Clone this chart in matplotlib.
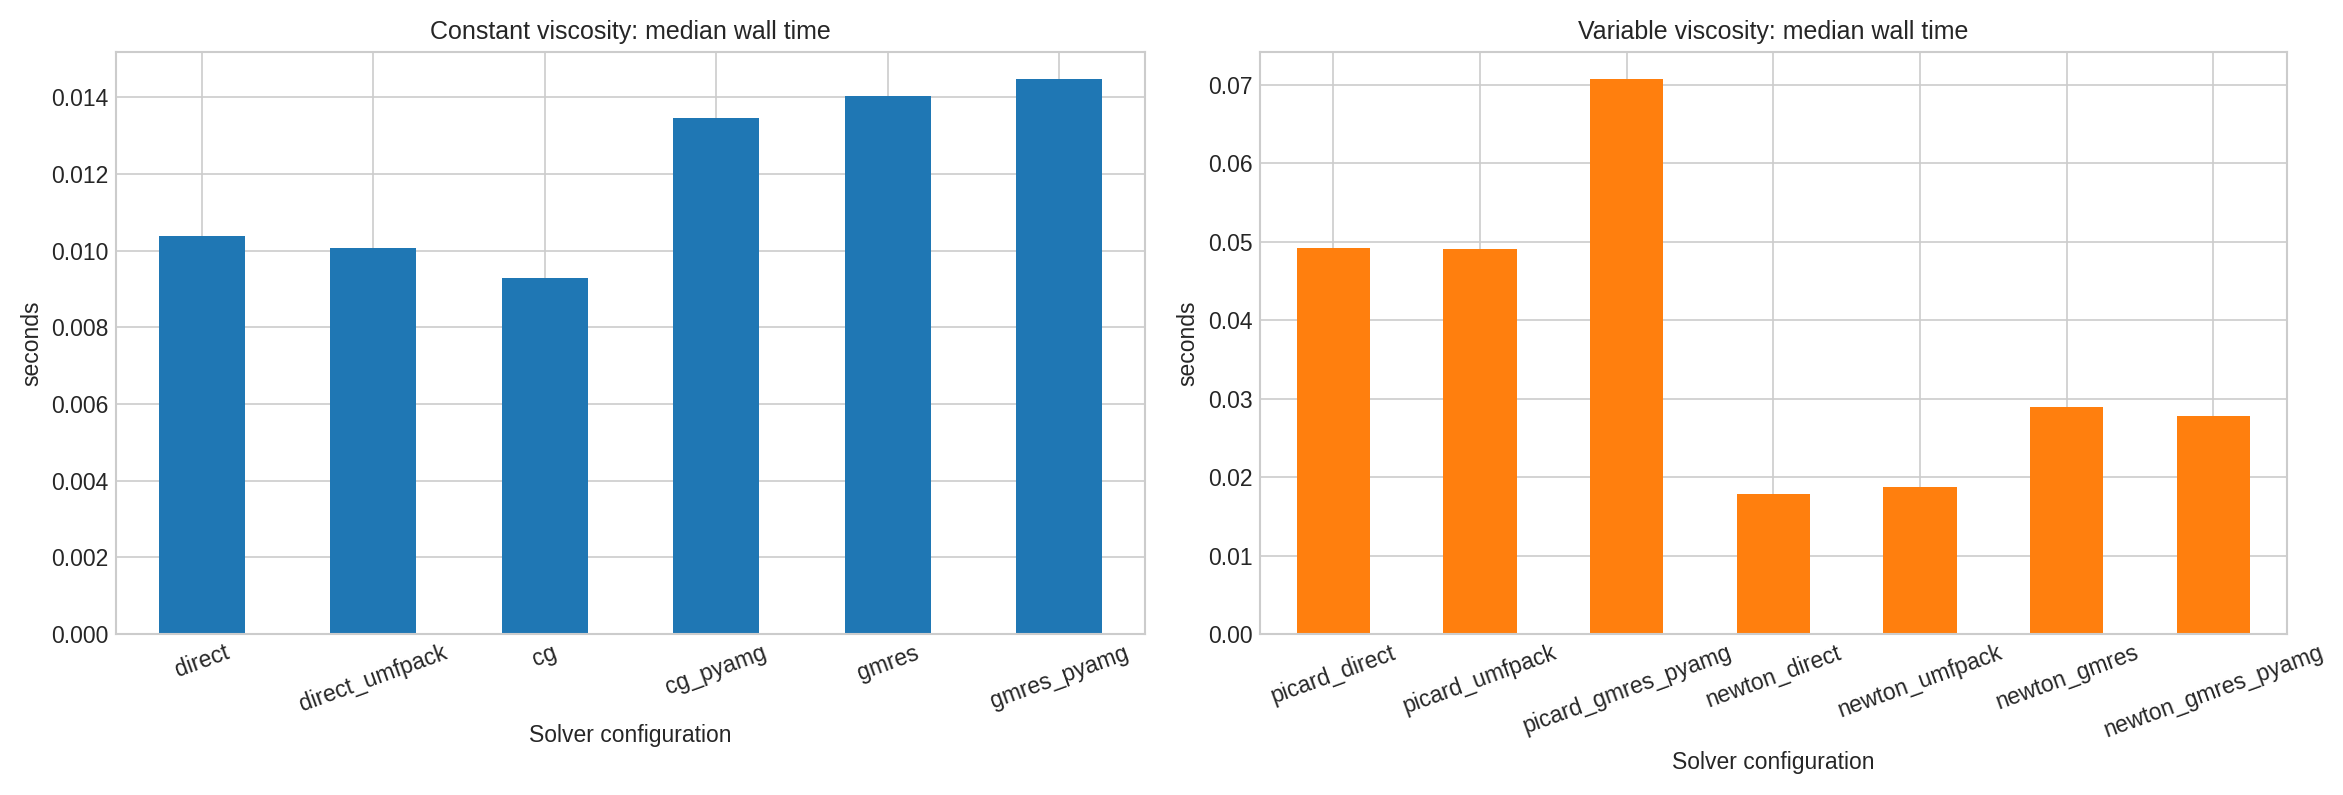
import numpy as np
import matplotlib
matplotlib.use('Agg')
import matplotlib.pyplot as plt

const_solvers = ['direct', 'direct_umfpack', 'cg', 'cg_pyamg', 'gmres', 'gmres_pyamg']
const_times = [0.01038, 0.01008, 0.00928, 0.01345, 0.01405, 0.01447]

var_solvers = ['picard_direct', 'picard_umfpack', 'picard_gmres_pyamg', 'newton_direct',
               'newton_umfpack', 'newton_gmres', 'newton_gmres_pyamg']
var_times = [0.0492, 0.0491, 0.0707, 0.0178, 0.0187, 0.0289, 0.0278]

plt.style.use('seaborn-v0_8-whitegrid')
plt.rcParams['font.family'] = ['Liberation Sans', 'DejaVu Sans']
plt.rcParams['font.size'] = 11
plt.rcParams['xtick.labelsize'] = 11
plt.rcParams['ytick.labelsize'] = 11
plt.rcParams['axes.labelsize'] = 11

fig, axes = plt.subplots(1, 2, figsize=(15.62, 5.3), dpi=150)

panels = [
    (axes[0], const_solvers, const_times, 'C0', 'Constant viscosity: median wall time'),
    (axes[1], var_solvers, var_times, 'C1', 'Variable viscosity: median wall time'),
]
for ax, names, times, color, title in panels:
    x = np.arange(len(names))
    ax.bar(x, times, width=0.5, color=color, zorder=2)
    ax.set_xticks(x)
    ax.set_xticklabels(names, rotation=20, ha='center')
    ax.set_xlim(-0.5, len(names) - 0.5)
    ax.set_ylim(0, max(times) * 1.05)
    ax.set_title(title, fontsize=12)
    ax.set_xlabel('Solver configuration')
    ax.set_ylabel('seconds')

axes[0].set_yticks(np.arange(0, 0.0141, 0.002))
axes[0].yaxis.set_major_formatter(plt.FormatStrFormatter('%.3f'))
axes[1].set_yticks(np.arange(0, 0.071, 0.01))
axes[1].yaxis.set_major_formatter(plt.FormatStrFormatter('%.2f'))

# axes boxes in figure fractions
axes[0].set_position([0.0495, 0.2025, 0.4887 - 0.0495, 0.935 - 0.2025])
axes[1].set_position([0.5378, 0.2025, 0.976 - 0.5378, 0.935 - 0.2025])

plt.savefig('out.png', dpi=150)
